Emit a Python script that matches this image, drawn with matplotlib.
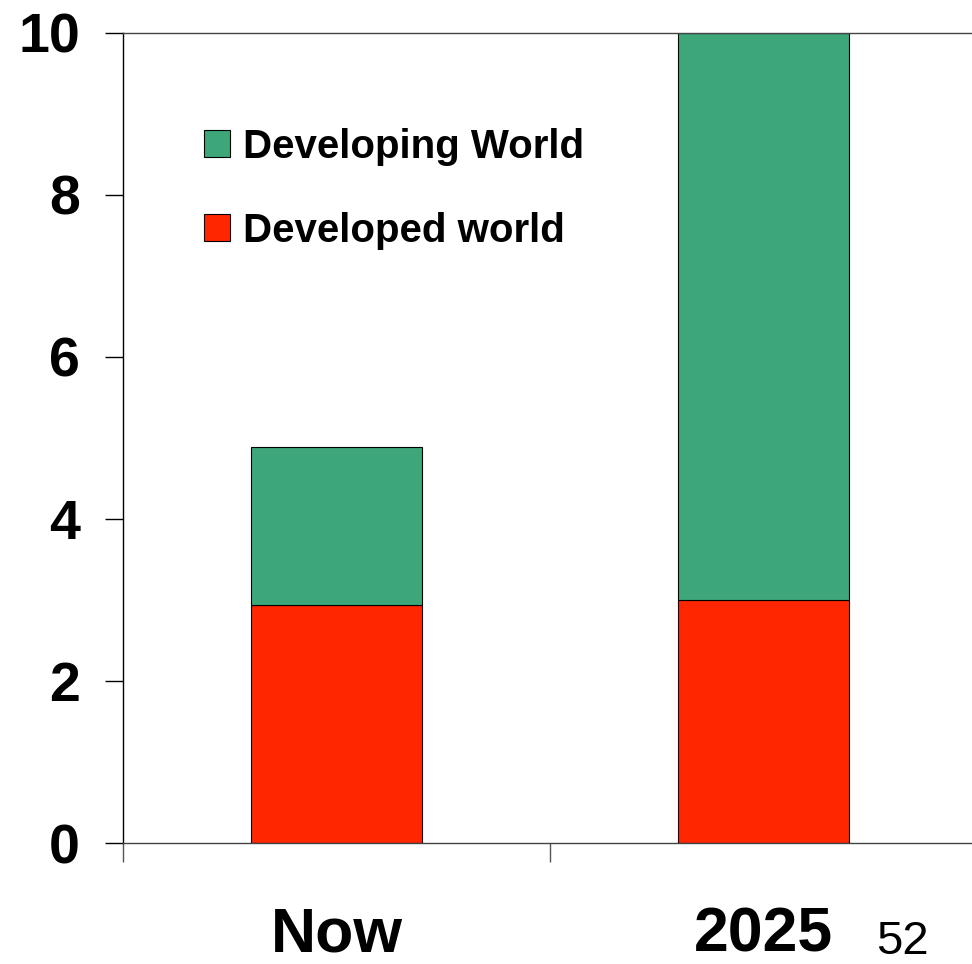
import matplotlib
matplotlib.use("Agg")
import matplotlib.pyplot as plt

# ----- Data -----
categories = ["Now", "2025"]
developed = [2.94, 3.0]
developing = [1.95, 7.0]
y_ticks = [0, 2, 4, 6, 8, 10]

green = "#3da77a"
red = "#ff2600"

plt.rcParams["font.family"] = ["Liberation Sans", "DejaVu Sans"]

fig = plt.figure(figsize=(9.72, 9.64), dpi=100)
ax = fig.add_axes([0.1265, 0.1255, 0.8786, 0.8403])

x = list(range(len(categories)))
ax.bar(x, developed, width=0.4, color=red, edgecolor="black",
       linewidth=0.8, label="Developed world")
ax.bar(x, developing, width=0.4, bottom=developed, color=green,
       edgecolor="black", linewidth=0.8, label="Developing World")

ax.set_xlim(-0.5, 1.5)
ax.set_ylim(0, 10)

# category boundaries as major ticks, labels on minor ticks
ax.set_xticks([-0.5, 0.5, 1.5])
ax.set_xticklabels([])
ax.set_xticks(x, minor=True)
ax.set_xticklabels(categories, minor=True, fontsize=45, fontweight="bold")
ax.tick_params(axis="x", which="major", length=14, width=1, color="#555555")
ax.tick_params(axis="x", which="minor", length=0, pad=45)

ax.set_yticks(y_ticks)
ax.set_yticklabels([str(t) for t in y_ticks], fontsize=40, fontweight="bold")
ax.tick_params(axis="y", length=13, width=1, pad=18)

ax.spines["right"].set_visible(False)
ax.spines["bottom"].set_color("#444444")
ax.spines["top"].set_color("#444444")
for s in ["left", "bottom", "top"]:
    ax.spines[s].set_linewidth(1)

handles, labels = ax.get_legend_handles_labels()
leg = ax.legend(handles[::-1], labels[::-1], loc="upper left",
                bbox_to_anchor=(0.076, 0.903), frameon=False,
                prop={"size": 29, "weight": "bold"},
                handlelength=0.65, handleheight=0.65,
                handletextpad=0.32, labelspacing=1.15, borderaxespad=0)

fig.text(902 / 972, 1 - 942 / 964, "52", fontsize=34,
         ha="center", va="center")

fig.savefig("out.png", dpi=100)
